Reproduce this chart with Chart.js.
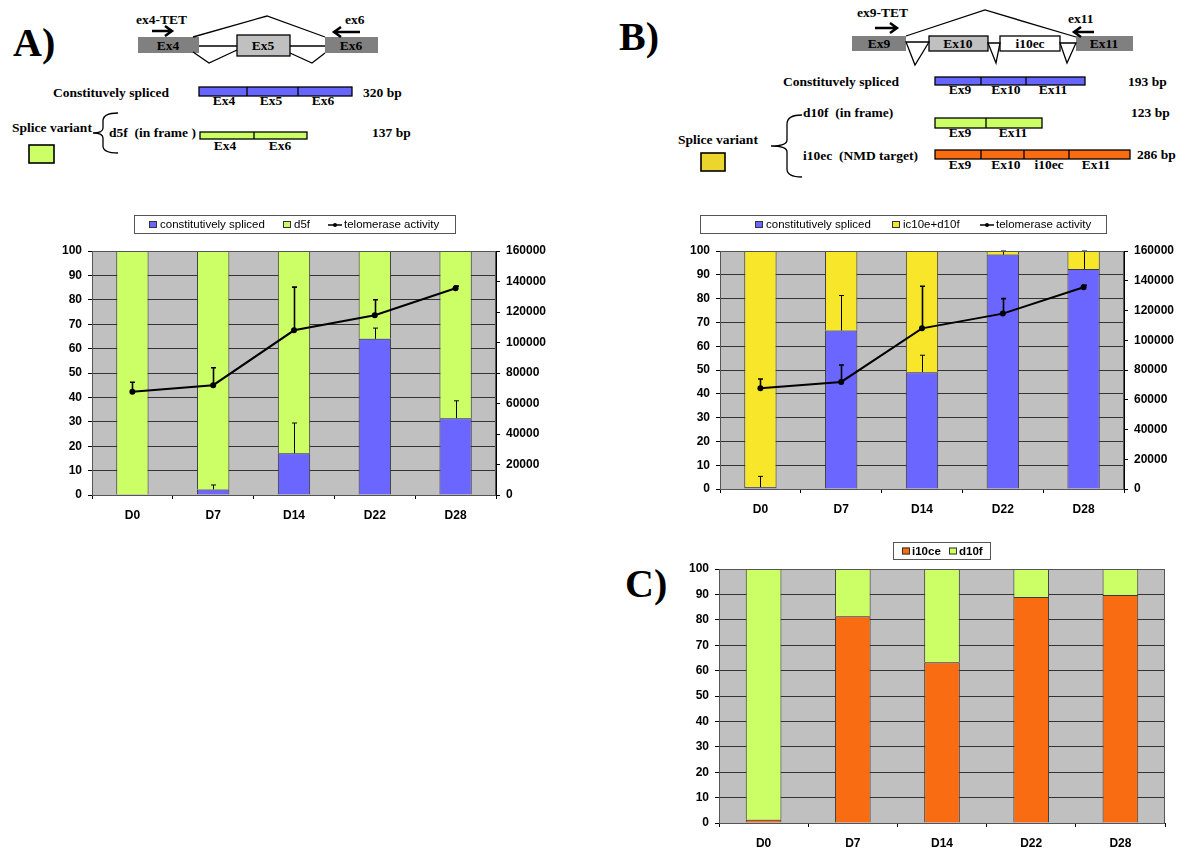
<!DOCTYPE html>
<html lang="en">
<head>
  <meta charset="UTF-8">
  <title>Splice variants and telomerase activity</title>
  <script src="https://cdn.jsdelivr.net/npm/chart.js"></script>
  <style>
    body { margin: 0; background: #fff; width: 1200px; height: 856px; overflow: hidden; position: relative; }
    .fig { position: absolute; }
    svg text { font-family: "Liberation Serif", "Times New Roman", serif; font-weight: bold; fill: #000; white-space: pre; }
  </style>
</head>
<body>
  <!-- exon diagrams -->
  <svg class="fig" style="left:0;top:0" width="1200" height="200">
    <g stroke="#000" fill="none" stroke-width="1.3">
      <!-- A -->
      <rect x="138" y="37" width="61" height="16" fill="#808080" stroke="none"/>
      <rect x="325" y="37" width="53" height="16" fill="#808080" stroke="none"/>
      <rect x="237" y="35" width="53" height="21" fill="#c0c0c0"/>
      <line x1="199" y1="46" x2="237" y2="46"/>
      <line x1="290" y1="46" x2="325" y2="46"/>
      <polyline points="193,37 267,16 325,37"/>
      <polyline points="193,52 209,63 237,50"/>
      <polyline points="290,53 312,63 325,53"/>
      <path d="M152 31 H172 M165 26 L172 31 L165 36" stroke-width="2.5"/>
      <path d="M360 32 H334 M341 27 L334 32 L341 37" stroke-width="2.5"/>
      <rect x="199" y="87" width="153" height="9" fill="#6666ff"/>
      <line x1="247" y1="87" x2="247" y2="96"/>
      <line x1="298" y1="87" x2="298" y2="96"/>
      <rect x="200" y="132" width="107" height="7" fill="#ccff66"/>
      <line x1="254" y1="132" x2="254" y2="139"/>
      <rect x="29" y="145" width="25" height="18" fill="#ccff66" stroke-width="1.6"/>
      <path d="M118 113 Q103 113 103 121 V128 Q103 133 93 133 Q103 133 103 138 V146 Q103 153 118 153"/>
      <!-- B -->
      <rect x="852" y="36" width="54" height="15" fill="#808080" stroke="none"/>
      <rect x="1076" y="36" width="57" height="15" fill="#808080" stroke="none"/>
      <rect x="929" y="36" width="59" height="15" fill="#c0c0c0"/>
      <rect x="1000" y="36" width="60" height="15" fill="#fff"/>
      <polygon points="906,42 929,42 915,65" fill="#fff"/>
      <polygon points="988,43 1000,43 996,63" fill="#fff"/>
      <polygon points="1060,43 1076,43 1067,63" fill="#fff"/>
      <polyline points="906,36 985,10 1076,37"/>
      <path d="M875 28 H897 M890 23 L897 28 L890 33" stroke-width="2.5"/>
      <path d="M1094 32 H1074 M1081 27 L1074 32 L1081 37" stroke-width="2.5"/>
      <rect x="935" y="77" width="150" height="8" fill="#6666ff"/>
      <line x1="981" y1="77" x2="981" y2="85"/>
      <line x1="1026" y1="77" x2="1026" y2="85"/>
      <rect x="935" y="118" width="107" height="10" fill="#ccff66"/>
      <line x1="986" y1="118" x2="986" y2="128"/>
      <rect x="935" y="150" width="195" height="9" fill="#fa6c12"/>
      <line x1="981" y1="150" x2="981" y2="159"/>
      <line x1="1024" y1="150" x2="1024" y2="159"/>
      <line x1="1069" y1="150" x2="1069" y2="159"/>
      <rect x="701" y="153" width="24" height="18" fill="#ecd52c" stroke-width="1.6"/>
      <path d="M802 115 Q787 115 787 124 V140 Q787 146 771 146 Q787 146 787 152 V169 Q787 177 802 177"/>
    </g>
    <!-- A labels -->
    <text x="13" y="56" font-size="40">A)</text>
    <text x="136" y="24" font-size="13.5">ex4-TET</text>
    <text x="345" y="24" font-size="13.5">ex6</text>
    <g font-size="13.5" text-anchor="middle">
      <text x="168" y="50">Ex4</text>
      <text x="263" y="50">Ex5</text>
      <text x="351" y="50">Ex6</text>
      <text x="224" y="105">Ex4</text>
      <text x="271" y="105">Ex5</text>
      <text x="323" y="105">Ex6</text>
      <text x="225" y="150">Ex4</text>
      <text x="280" y="150">Ex6</text>
    </g>
    <g font-size="13.5">
      <text x="53" y="97">Constituvely spliced</text>
      <text x="363" y="97">320 bp</text>
      <text x="12" y="132">Splice variant</text>
      <text x="109" y="137">d5f  (in frame )</text>
      <text x="372" y="137">137 bp</text>
    </g>
    <!-- B labels -->
    <text x="619" y="50" font-size="40">B)</text>
    <g font-size="13.5">
      <text x="857" y="17">ex9-TET</text>
      <text x="1068" y="23">ex11</text>
      <text x="783" y="86">Constituvely spliced</text>
      <text x="1128" y="86">193 bp</text>
      <text x="803" y="117">d10f  (in frame)</text>
      <text x="1131" y="117">123 bp</text>
      <text x="678" y="144">Splice variant</text>
      <text x="803" y="160">i10ec  (NMD target)</text>
      <text x="1137" y="159">286 bp</text>
    </g>
    <g font-size="13.5" text-anchor="middle">
      <text x="879" y="48">Ex9</text>
      <text x="958" y="48">Ex10</text>
      <text x="1030" y="48">i10ec</text>
      <text x="1104" y="48">Ex11</text>
      <text x="960" y="94">Ex9</text>
      <text x="1006" y="94">Ex10</text>
      <text x="1053" y="94">Ex11</text>
      <text x="960" y="137">Ex9</text>
      <text x="1013" y="137">Ex11</text>
      <text x="960" y="169">Ex9</text>
      <text x="1006" y="169">Ex10</text>
      <text x="1049" y="169">i10ec</text>
      <text x="1096" y="169">Ex11</text>
    </g>
  </svg>
  <svg class="fig" style="left:600px;top:555px" width="80" height="60">
    <text x="25" y="42" font-size="40">C)</text>
  </svg>

  <div class="fig" style="left:0;top:200px"><canvas id="chartA" width="600" height="330"></canvas></div>
  <div class="fig" style="left:600px;top:200px"><canvas id="chartB" width="600" height="330"></canvas></div>
  <div class="fig" style="left:600px;top:530px"><canvas id="chartC" width="600" height="326"></canvas></div>

  <script>
    // data
    const days = ['D0', 'D7', 'D14', 'D22', 'D28'];
    const pctTicks = [0, 10, 20, 30, 40, 50, 60, 70, 80, 90, 100];
    const activityTicks = [0, 20000, 40000, 60000, 80000, 100000, 120000, 140000, 160000];

    // telomerase activity (same in A and B), with top of error bar
    const telomerase = [67700, 72000, 108000, 117900, 135600];
    const telomeraseHi = [73900, 83400, 136300, 128000, 137000];

    // A) constitutively spliced vs d5f (%)
    const aConstitutive = [0, 2.3, 17.1, 64, 31.5];
    const aConstitutiveHi = [0, 4.1, 29.5, 68.4, 38.6];
    const aD5f = [100, 97.7, 82.9, 36, 68.5];

    // B) constitutively spliced vs ic10e+d10f (%)
    const bConstitutive = [0.8, 66.6, 49.1, 98.5, 92.4];
    const bConstitutiveHi = [5.3, 81.3, 56.2, 100, 100];
    const bVariants = [99.2, 33.4, 50.9, 1.5, 7.6];

    // C) i10ce vs d10f (%)
    const cI10ce = [1.3, 81.4, 63.3, 89, 89.8];
    const cD10f = [98.7, 18.6, 36.7, 11, 10.2];

    const BLUE = '#6b66ff', GREEN = '#ccff66', YELLOW = '#f7e62a', ORANGE = '#fa6c12';
    const FONT = '"Liberation Sans", Arial, sans-serif';

    // grey plot background
    const plotBg = {
      id: 'plotBg',
      beforeDraw(chart) {
        const a = chart.chartArea, ctx = chart.ctx;
        ctx.save();
        ctx.fillStyle = '#c0c0c0';
        ctx.fillRect(a.left, a.top, a.right - a.left, a.bottom - a.top);
        ctx.restore();
      },
      afterDraw(chart) {
        const a = chart.chartArea, ctx = chart.ctx;
        ctx.save();
        ctx.strokeStyle = '#555';
        ctx.lineWidth = 1;
        ctx.strokeRect(a.left + 0.5, a.top + 0.5, a.right - a.left - 1, a.bottom - a.top);
        ctx.restore();
      }
    };

    // upper error bars (dataset.errHi holds the top of each bar)
    const errorBars = {
      id: 'errorBars',
      afterDatasetsDraw(chart) {
        const ctx = chart.ctx;
        chart.data.datasets.forEach((ds, i) => {
          if (!ds.errHi) return;
          const meta = chart.getDatasetMeta(i);
          const scale = chart.scales[meta.yAxisID];
          ctx.save();
          ctx.strokeStyle = '#000';
          ctx.lineWidth = ds.type === 'line' ? 1.6 : 1;
          meta.data.forEach((el, j) => {
            const hi = ds.errHi[j];
            if (hi == null || hi <= ds.data[j]) return;
            const x = Math.round(el.x) + 0.5;
            const y0 = scale.getPixelForValue(ds.data[j]);
            const y1 = scale.getPixelForValue(hi);
            ctx.beginPath();
            ctx.moveTo(x, y0);
            ctx.lineTo(x, y1);
            ctx.moveTo(x - 2.5, y1);
            ctx.lineTo(x + 2.5, y1);
            ctx.stroke();
          });
          ctx.restore();
        });
      }
    };

    // boxed legend in the Excel style
    const boxLegend = {
      id: 'boxLegend',
      afterDraw(chart, args, opts) {
        if (!opts.box) return;
        const ctx = chart.ctx, b = opts.box;
        ctx.save();
        ctx.fillStyle = '#fff';
        ctx.fillRect(b.x, b.y, b.w, b.h);
        ctx.strokeStyle = '#555';
        ctx.lineWidth = 1;
        ctx.strokeRect(b.x + 0.5, b.y + 0.5, b.w, b.h);
        const cy = b.y + b.h / 2 + 1;
        ctx.font = (opts.bold ? 'bold ' : '') + '11.5px ' + FONT;
        ctx.textBaseline = 'middle';
        opts.items.forEach(it => {
          const ds = chart.data.datasets[it.ds];
          if (ds.type === 'line') {
            ctx.strokeStyle = '#000';
            ctx.lineWidth = 1.5;
            ctx.beginPath();
            ctx.moveTo(it.x, cy);
            ctx.lineTo(it.x + 14, cy);
            ctx.stroke();
            ctx.fillStyle = '#000';
            ctx.beginPath();
            ctx.arc(it.x + 7, cy, 2, 0, Math.PI * 2);
            ctx.fill();
          } else {
            ctx.fillStyle = ds.backgroundColor;
            ctx.fillRect(it.x, cy - 4, 8, 7);
            ctx.strokeStyle = '#333';
            ctx.lineWidth = 1;
            ctx.strokeRect(it.x + 0.5, cy - 3.5, 7, 6);
          }
          ctx.fillStyle = '#000';
          ctx.fillText(ds.label, it.tx, cy);
        });
        ctx.restore();
      }
    };

    const tickFont = { family: FONT, size: 12, weight: 'bold' };
    const catFont = { family: FONT, size: 12, weight: 'bold' };

    function makeChart(id, cfg) {
      const scales = {
        x: {
          stacked: true,
          afterFit: s => { s.height = cfg.xHeight; },
          grid: { offset: true, drawOnChartArea: false, tickLength: 4, color: '#000' },
          border: { color: '#000' },
          ticks: { font: catFont, color: '#000', padding: 9 }
        },
        y: {
          stacked: true,
          min: 0, max: 100,
          afterFit: s => { s.width = cfg.left; },
          afterBuildTicks: s => { s.ticks = pctTicks.map(v => ({ value: v })); },
          grid: { color: '#333', tickLength: 4, tickColor: '#000' },
          border: { color: '#000' },
          ticks: { font: tickFont, color: '#000', padding: 6, callback: v => String(v) }
        }
      };
      if (cfg.right2) {
        scales.y1 = {
          position: 'right',
          min: 0, max: 160000,
          afterFit: s => { s.width = cfg.right; },
          afterBuildTicks: s => { s.ticks = activityTicks.map(v => ({ value: v })); },
          grid: { drawOnChartArea: false, tickLength: 4, color: '#000' },
          border: { color: '#000' },
          ticks: { font: tickFont, color: '#000', padding: 6, callback: v => String(v) }
        };
      }
      return new Chart(document.getElementById(id), {
        type: 'bar',
        data: { labels: days, datasets: cfg.datasets },
        options: {
          responsive: false,
          animation: false,
          events: [],
          layout: { padding: { top: cfg.top, left: 0, right: cfg.right2 ? 0 : cfg.right, bottom: 0 } },
          datasets: { bar: { categoryPercentage: 1, barPercentage: 0.4 } },
          plugins: {
            legend: { display: false },
            tooltip: { enabled: false },
            boxLegend: cfg.legend
          },
          scales: scales
        },
        plugins: [plotBg, errorBars, boxLegend]
      });
    }

    const barStyle = { borderColor: '#3a3a3a', borderWidth: 1, order: 1 };
    const lineDs = {
      type: 'line', label: 'telomerase activity', data: telomerase, errHi: telomeraseHi,
      yAxisID: 'y1', borderColor: '#000', backgroundColor: '#000', borderWidth: 2,
      pointRadius: 2, pointBackgroundColor: '#000', tension: 0, order: 0
    };

    makeChart('chartA', {
      top: 51, left: 92, right: 104, xHeight: 35, right2: true,
      datasets: [
        Object.assign({ label: 'constitutively spliced', data: aConstitutive, errHi: aConstitutiveHi, backgroundColor: BLUE }, barStyle),
        Object.assign({ label: 'd5f', data: aD5f, backgroundColor: GREEN }, barStyle),
        Object.assign({}, lineDs)
      ],
      legend: {
        box: { x: 134, y: 15, w: 321, h: 18 },
        items: [{ ds: 0, x: 149, tx: 160 }, { ds: 1, x: 283, tx: 294 }, { ds: 2, x: 328, tx: 344 }]
      }
    });

    makeChart('chartB', {
      top: 51, left: 120, right: 76, xHeight: 41, right2: true,
      datasets: [
        Object.assign({ label: 'constitutively spliced', data: bConstitutive, errHi: bConstitutiveHi, backgroundColor: BLUE }, barStyle),
        Object.assign({ label: 'ic10e+d10f', data: bVariants, backgroundColor: YELLOW }, barStyle),
        Object.assign({}, lineDs)
      ],
      legend: {
        box: { x: 100, y: 15, w: 406, h: 18 },
        items: [{ ds: 0, x: 155, tx: 166 }, { ds: 1, x: 292, tx: 303 }, { ds: 2, x: 380, tx: 396 }]
      }
    });

    makeChart('chartC', {
      top: 39, left: 119, right: 35, xHeight: 33, right2: false,
      datasets: [
        Object.assign({ label: 'i10ce', data: cI10ce, backgroundColor: ORANGE }, barStyle),
        Object.assign({ label: 'd10f', data: cD10f, backgroundColor: GREEN }, barStyle)
      ],
      legend: {
        bold: true,
        box: { x: 293, y: 12, w: 97, h: 17 },
        items: [{ ds: 0, x: 302, tx: 312 }, { ds: 1, x: 349, tx: 359 }]
      }
    });
  </script>
</body>
</html>
